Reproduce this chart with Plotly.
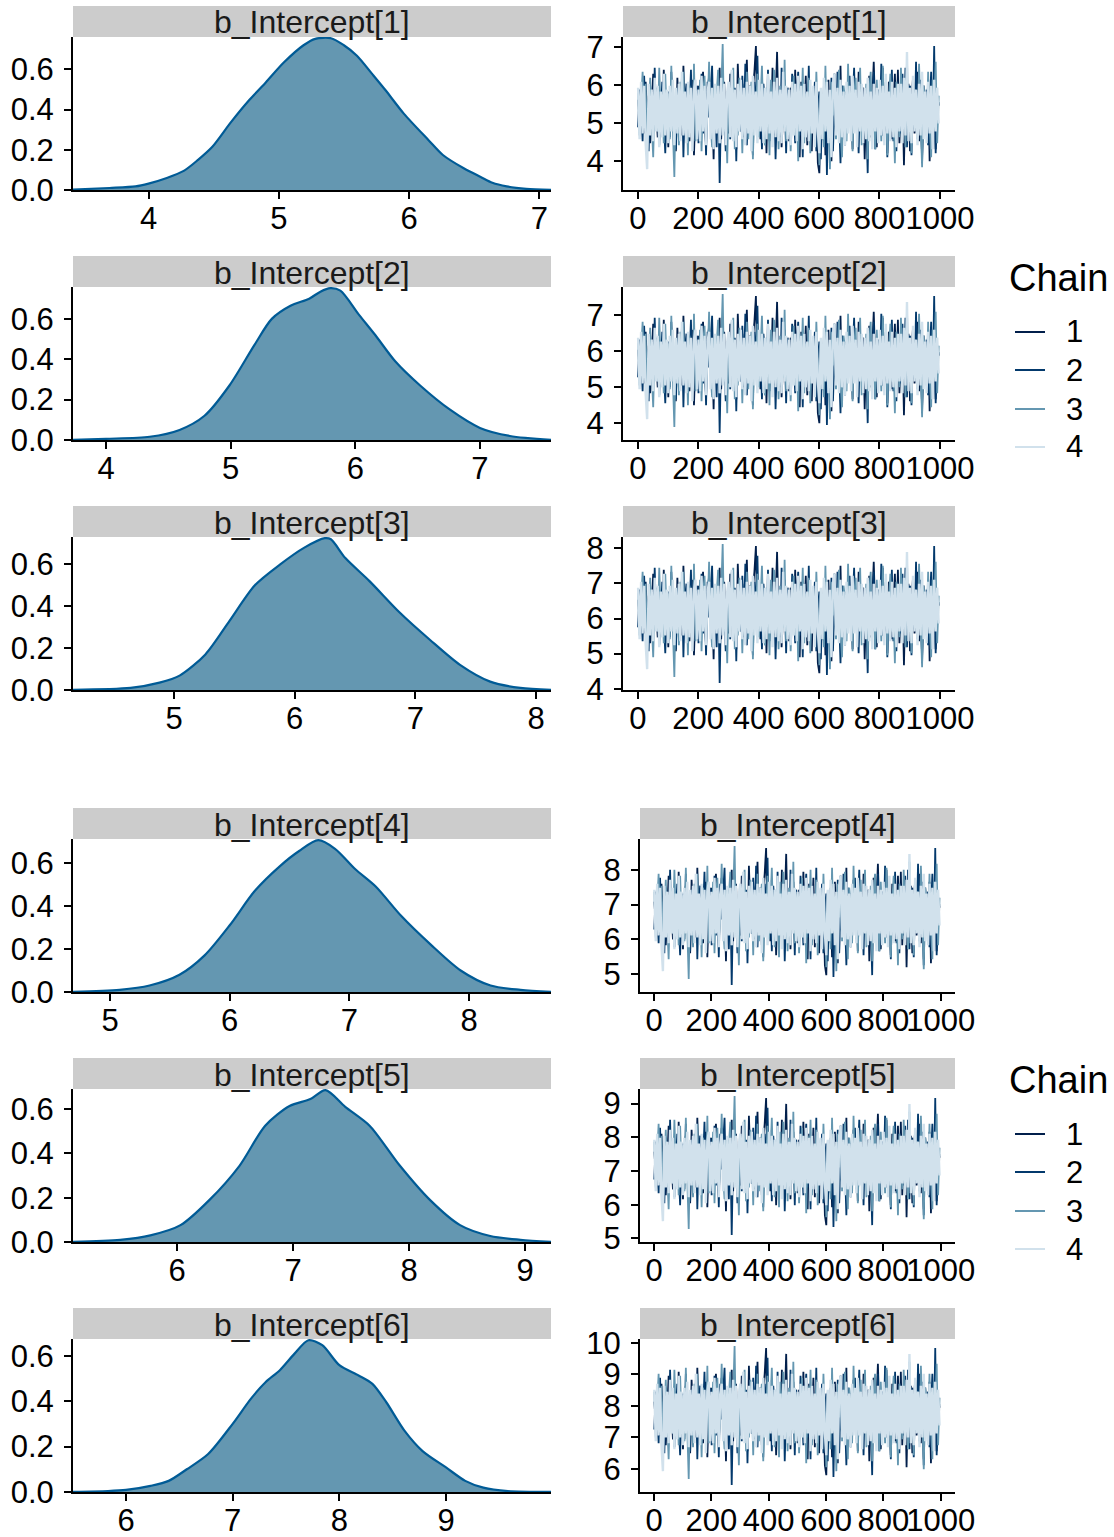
import plotly.graph_objects as go

W, H = 1114, 1537
FONT = "Liberation Sans, Arial, Helvetica, sans-serif"

# ---------------- data ----------------
param_names = ["b_Intercept[1]", "b_Intercept[2]", "b_Intercept[3]",
               "b_Intercept[4]", "b_Intercept[5]", "b_Intercept[6]"]
chain_names = ["1", "2", "3", "4"]
chain_colors = ["#011f4b", "#03396c", "#6497b1", "#d1e1ec"]
chain_widths = [1.8, 1.8, 1.8, 2.4]
dens_fill = "#6497b1"
dens_line = "#005b96"

# posterior density curves
dens1_x = [3.42, 3.70, 3.90, 4.00, 4.14, 4.27, 4.38, 4.49, 4.63, 4.77, 4.90, 5.04, 5.19, 5.28,
           5.40, 5.50, 5.60, 5.72, 5.82, 5.96, 6.15, 6.26, 6.42, 6.55, 6.64, 6.75, 6.90, 7.09]
dens1_y = [0.002, 0.010, 0.018, 0.032, 0.060, 0.095, 0.150, 0.215, 0.335, 0.445, 0.535, 0.635, 0.720, 0.752,
           0.755, 0.720, 0.668, 0.575, 0.496, 0.380, 0.248, 0.174, 0.108, 0.065, 0.036, 0.018, 0.006, 0.001]
dens2_x = [3.735, 4.00, 4.35, 4.59, 4.79, 4.99, 5.19, 5.33, 5.48, 5.63, 5.72, 5.80, 5.88, 6.03,
           6.16, 6.32, 6.52, 6.76, 7.00, 7.24, 7.57]
dens2_y = [0.001, 0.006, 0.016, 0.050, 0.120, 0.270, 0.470, 0.600, 0.665, 0.700, 0.735, 0.752, 0.740, 0.620,
           0.520, 0.390, 0.270, 0.150, 0.060, 0.020, 0.001]
dens3_x = [4.163, 4.64, 4.88, 5.05, 5.26, 5.46, 5.67, 5.88, 6.08, 6.25, 6.30, 6.42, 6.62, 6.87,
           7.12, 7.37, 7.62, 7.87, 8.124]
dens3_y = [0.001, 0.010, 0.035, 0.070, 0.170, 0.330, 0.500, 0.600, 0.680, 0.725, 0.720, 0.630, 0.520, 0.370,
           0.240, 0.120, 0.040, 0.010, 0.001]
dens4_x = [4.69, 5.08, 5.33, 5.58, 5.79, 6.00, 6.21, 6.42, 6.58, 6.74, 6.88, 7.05, 7.22, 7.43,
           7.68, 7.93, 8.18, 8.43, 8.685]
dens4_y = [0.001, 0.010, 0.030, 0.080, 0.170, 0.310, 0.470, 0.585, 0.655, 0.705, 0.665, 0.570, 0.490, 0.355,
           0.220, 0.100, 0.030, 0.010, 0.001]
dens5_x = [5.103, 5.51, 5.77, 6.03, 6.28, 6.54, 6.76, 6.97, 7.15, 7.28, 7.45, 7.66, 7.92, 8.18,
           8.44, 8.70, 8.96, 9.224]
dens5_y = [0.001, 0.010, 0.030, 0.076, 0.190, 0.345, 0.525, 0.614, 0.645, 0.685, 0.610, 0.525, 0.345, 0.190,
           0.076, 0.027, 0.010, 0.001]
dens6_x = [5.503, 5.83, 6.00, 6.23, 6.40, 6.57, 6.77, 7.00, 7.17, 7.31, 7.44, 7.58, 7.71, 7.84,
           8.00, 8.18, 8.31, 8.44, 8.61, 8.78, 9.00, 9.18, 9.35, 9.58, 9.984]
dens6_y = [0.0005, 0.004, 0.009, 0.027, 0.049, 0.100, 0.167, 0.300, 0.410, 0.484, 0.535, 0.609, 0.668, 0.646,
           0.558, 0.513, 0.476, 0.395, 0.270, 0.180, 0.108, 0.049, 0.019, 0.004, 0.0005]

# MCMC traces: standardized draws per chain (thinned, read approximately) and
# per-parameter centre / scale
n_iter = 1000
iterations = list(range(1, 1001, 5))
param_center = [5.307, 5.708, 6.200, 6.745, 7.222, 7.760]
param_scale = [0.524, 0.548, 0.566, 0.571, 0.589, 0.630]

chain1_z = [
    0.6, -0.4, 1.2, 0.3, -1.1, 1.5, -0.2, 0.8, -1.6, 0.4, 1.9, -0.7, 0.1, -1.3, 1.1, 0.5, -0.9, 2.1, -0.3, 0.7,
    -1.8, 0.9, 1.4, -0.6, 0.2, -2.0, 1.7, -0.1, 0.6, -1.2, 2.3, 0.0, -0.8, 1.0, -1.5, 0.4, 1.6, -2.2, 0.3, -0.5,
    1.3, -1.0, 0.7, 2.0, -0.4, -1.7, 0.9, 1.8, -0.2, 0.5, -2.4, 1.2, 0.1, -0.9, 2.2, -1.4, 0.6, 1.5, -0.7, 0.2,
    -1.1, 1.9, 0.4, -0.3, 1.0, -1.9, 2.4, 0.2, -0.6, 1.4, -1.3, 0.8, 2.6, -0.5, 0.3, -1.6, 1.1, 2.0, 3.3, -0.8,
    0.5, -1.4, 1.7, -0.2, 0.9, -2.1, 1.3, 0.0, -0.7, 2.2, -1.2, 0.6, 3.0, -0.4, 1.0, -1.8, 0.3, 1.6, -0.9, 0.1,
    -1.5, 1.2, 0.4, -0.6, 2.1, -1.0, 0.8, -2.3, 1.5, 0.2, -0.3, 1.8, -1.7, 0.5, 0.9, -2.0, 1.1, -0.5, 0.3, -2.6,
    -3.1, 0.7, -1.4, 1.3, -2.2, 0.2, 1.6, -0.8, -2.5, 0.9, 1.9, -1.1, 0.4, -0.2, 2.3, -1.6, 0.6, 1.0, -0.9, 1.7,
    -0.4, 0.8, -1.9, 1.4, 0.1, -1.2, 2.0, -0.7, 0.5, 1.2, -2.4, 0.3, -0.6, 1.8, -1.3, 0.9, 2.5, -0.1, -1.8, 0.6,
    1.1, -0.5, 2.2, -1.0, 0.4, -2.1, 1.5, 0.7, -1.4, 0.2, 1.9, -0.8, 2.1, -1.6, 0.3, 1.0, -2.7, 0.8, -0.3, 1.4,
    -2.0, 0.5, 1.7, -1.1, 0.0, 2.0, -1.5, 0.6, -2.3, 1.3, 0.2, -0.9, 1.6, -2.5, 0.9, -0.4, 1.2, -1.9, 0.7, 0.3,
]
chain2_z = [
    -0.8, 1.1, 0.2, -1.5, 1.8, -0.3, 0.6, -2.0, 1.3, 0.4, -1.0, 2.2, -0.6, 0.9, -1.7, 0.1, 1.5, -0.4, -2.1, 0.7,
    1.0, -1.3, 2.0, -0.2, 0.5, -1.9, 1.2, 0.3, -0.9, 1.7, -2.3, 0.6, 1.4, -0.7, 0.0, 2.1, -1.4, 0.8, -0.5, 1.3,
    -1.6, 0.4, 1.9, -1.1, 0.7, -2.2, 1.5, -0.3, 0.9, 2.3, -1.2, 0.2, -1.8, 1.1, -3.6, 0.5, 1.6, -0.8, -2.0, 1.0,
    0.3, -1.4, 2.0, -0.6, 1.2, -2.5, 0.8, 0.1, -1.0, 1.8, -0.4, 2.4, -1.7, 0.6, 1.3, -0.9, -2.2, 1.5, 0.2, 2.8,
    -1.1, 0.7, -1.9, 1.4, 0.4, -0.7, 2.1, -1.5, 0.9, -0.2, 1.6, -2.4, 0.3, 1.1, -1.3, 2.2, -0.5, 0.8, -2.1, 1.2,
    0.6, -1.0, 1.9, -0.3, -1.6, 0.9, 2.0, -1.2, 0.4, -2.3, 1.4, 0.1, -0.8, 2.3, -1.4, 0.7, -0.4, 1.5, -2.0, 0.2,
    1.0, -2.4, 0.5, -1.5, 1.2, -3.2, 0.8, -0.6, 1.7, -2.0, 0.3, -1.1, 2.0, -0.2, -2.6, 1.3, 0.6, -1.7, 0.9, -0.5,
    1.8, -1.3, 0.4, 2.2, -0.9, 0.1, -2.1, 1.4, 0.7, -1.6, 1.0, -0.3, -3.1, 1.6, 0.2, -1.0, 2.0, -1.9, 0.5, 1.1,
    -0.7, 2.4, -1.2, 0.3, 1.5, -2.3, 0.8, -0.4, 2.1, -1.5, 0.6, -2.0, 1.2, 0.0, -1.1, 1.9, -0.6, 2.2, -1.8, 0.4,
    1.3, -2.2, 0.7, -0.9, 2.5, -1.4, 0.2, 1.6, -2.6, 0.9, -0.3, 1.1, -1.7, 0.5, 2.0, -1.2, 3.3, -2.1, 0.6, 0.4,
]
chain3_z = [
    1.1, -1.2, 0.5, 2.0, -0.7, 1.4, -1.9, 0.3, 1.7, -0.5, -2.3, 0.8, 1.2, -1.0, 2.2, -0.2, 0.6, -1.6, 1.9, -0.4,
    0.9, -1.4, 2.3, -0.8, -3.3, 1.0, 0.2, -1.7, 1.5, -0.1, 2.0, -1.1, 0.7, -2.2, 1.3, 0.4, -0.9, 2.4, -1.5, 0.6,
    -0.3, 1.6, -2.0, 0.9, 1.8, -1.3, 0.1, 2.5, -0.6, -1.8, 1.2, -0.4, 0.8, 2.1, -1.6, 0.5, 3.4, -1.0, 0.2, -2.6,
    1.4, -0.7, 0.6, 2.2, -1.9, 0.3, -1.2, 1.7, 0.9, -2.1, 1.1, -0.5, 2.0, -1.4, 0.4, 1.5, -2.4, 0.7, -0.2, 1.9,
    -1.3, 0.8, 2.3, -0.9, -1.7, 1.2, 0.3, -2.2, 1.6, -0.6, 2.1, -1.1, 0.5, -1.9, 1.3, 0.0, -0.8, 2.6, -1.5, 0.7,
    1.0, -2.0, 0.4, 1.8, -1.2, 0.6, -2.5, 1.4, -0.3, 2.2, -1.6, 0.9, -0.5, 1.7, -2.1, 0.2, 1.2, -1.3, 2.0, -0.7,
    -2.7, 1.1, 0.5, -1.8, 2.3, -0.9, 0.7, -2.9, 1.5, -0.2, 1.9, -1.4, 0.3, 2.1, -1.0, -2.3, 1.3, 0.6, -1.5, 2.4,
    -0.6, 1.0, -2.0, 0.8, 1.7, -1.2, 0.2, 2.2, -1.7, 0.5, -0.8, 1.4, -2.4, 0.9, 2.0, -1.1, 0.4, -1.9, 1.6, -0.3,
    0.7, -1.5, 2.3, -0.4, 1.2, -2.2, 0.6, 1.9, -1.0, 0.1, -2.6, 1.5, 0.8, -1.3, 2.2, -0.5, 1.0, -1.8, 2.6, -0.9,
    0.4, -2.1, 1.7, -0.6, 1.1, -1.4, 2.4, -0.2, -2.8, 1.3, 0.5, -1.2, 2.0, -0.7, -2.3, 1.6, 0.3, 2.5, -1.6, 0.8,
]
chain4_z = [
    1.2, -1.4, 1.5, -1.1, 1.3, -1.6, -2.9, 1.4, -1.2, 1.1, -1.5, 1.7, -1.0, 1.3, -1.8, 1.0, -1.3, 1.9, -1.2, 1.1,
    -1.6, 1.3, -1.0, 1.6, -1.7, 1.2, -1.1, 1.4, -1.5, 2.0, -1.2, 1.0, -1.6, 1.5, -1.3, 1.2, -2.0, 1.1, 1.6, -1.4,
    1.1, -1.5, 1.8, -1.0, 1.3, -1.7, 1.0, 1.5, -1.4, 1.2, -1.9, 1.4, -1.1, 1.3, -1.6, 1.7, -1.2, 1.4, -1.7, 1.0,
    1.5, -1.3, 2.1, -1.5, 1.1, -1.8, 1.4, -1.0, 1.6, -1.4, 1.2, -1.7, 1.5, -1.1, 1.3, -2.0, 1.8, -1.2, 1.0, -1.6,
    1.6, -1.0, 1.4, -1.6, 1.2, -1.4, 1.9, -1.1, 1.0, -1.8, 1.5, -1.3, 1.7, -1.5, 1.1, -1.6, 2.0, -1.0, 1.3, -1.4,
    1.1, -1.7, 1.5, -1.2, 1.4, -1.5, 1.8, -1.0, 1.3, -1.9, 1.4, -1.3, 1.0, -1.5, 1.6, -1.1, 1.3, -1.8, 1.5, -1.0,
    -2.1, 1.2, -1.4, 1.7, -1.0, 1.5, -1.6, 1.1, -2.3, 1.4, 1.9, -1.2, 1.2, -1.6, 1.6, -1.3, 1.0, -1.7, 1.5, -1.1,
    1.3, -1.5, 1.8, -1.1, 1.1, -1.8, 1.5, -1.0, 1.4, -1.6, 1.2, -1.4, 1.7, -1.5, 1.0, -1.9, 1.4, -1.0, 1.2, -1.6,
    1.6, -1.2, 1.3, -1.7, 1.9, -1.1, 1.0, -1.5, 1.5, -1.3, 1.2, -1.8, 1.4, -1.0, 1.4, -1.6, 1.7, -1.2, 3.0, -1.5,
    1.2, -1.6, 1.8, -1.0, 1.1, -1.7, 1.4, -1.2, 2.0, -1.4, 1.0, -1.6, 1.5, -1.1, 1.3, -1.9, 1.6, -1.0, 1.2, -0.6,
]

dens_x = [dens1_x, dens2_x, dens3_x, dens4_x, dens5_x, dens6_x]
dens_y = [dens1_y, dens2_y, dens3_y, dens4_y, dens5_y, dens6_y]
chains_z = [chain1_z, chain2_z, chain3_z, chain4_z]

# ---------------- layout geometry (pixels) ----------------
row_top = [37, 287, 537, 839, 1089, 1339]
row_bot = [190, 440, 690, 992, 1242, 1492]
strip_h = 31
dens_left, dens_right = 73, 551
trace_left = [623, 623, 623, 640, 640, 640]
trace_right = 955
legend_tops = [255, 1057]


def fx(px):
    return px / W


def fy(px):
    return 1 - px / H


fig = go.Figure()
layout = {}
shapes = []
annotations = []

axis_common = dict(
    showline=True, linecolor="black", linewidth=2,
    ticks="outside", ticklen=7, tickwidth=2, tickcolor="black",
    showgrid=False, zeroline=False, automargin=False, tickangle=0,
    tickfont=dict(family=FONT, size=31, color="black"),
)
xaxis_common = dict(axis_common, ticklabelstandoff=-7)
yaxis_common = dict(axis_common, ticklabelstandoff=4)

for i in range(6):
    # ---- density panel ----
    ax = i + 1
    fig.add_trace(go.Scatter(
        x=dens_x[i], y=dens_y[i], mode="lines",
        line=dict(color=dens_line, width=2.2, shape="spline", smoothing=0.8),
        fill="tozeroy", fillcolor=dens_fill, showlegend=False,
        xaxis=f"x{ax}", yaxis=f"y{ax}", hoverinfo="skip",
    ))
    layout[f"xaxis{ax}"] = dict(
        xaxis_common, domain=[fx(dens_left), fx(dens_right)], anchor=f"y{ax}",
        range=[min(dens_x[i]), max(dens_x[i])], dtick=1, tick0=0,
    )
    layout[f"yaxis{ax}"] = dict(
        yaxis_common, domain=[fy(row_bot[i]), fy(row_top[i])], anchor=f"x{ax}",
        range=[0, max(dens_y[i]) * 1.008], tickvals=[0, 0.2, 0.4, 0.6], tickformat=".1f",
    )
    # ---- trace panel ----
    at = i + 7
    lo, hi = None, None
    for c in range(4):
        vals = [param_center[i] + param_scale[i] * z for z in chains_z[c]]
        lo = min(vals) if lo is None else min(lo, min(vals))
        hi = max(vals) if hi is None else max(hi, max(vals))
        fig.add_trace(go.Scatter(
            x=iterations[:len(vals)], y=vals, mode="lines", name=chain_names[c],
            line=dict(color=chain_colors[c], width=chain_widths[c]),
            legendgroup=f"chain{c + 1}", showlegend=False,
            xaxis=f"x{at}", yaxis=f"y{at}", hoverinfo="skip",
        ))
    pad = 0.05 * (hi - lo)
    xpad = 0.05 * (n_iter - 1)
    layout[f"xaxis{at}"] = dict(
        xaxis_common, domain=[fx(trace_left[i]), fx(trace_right)], anchor=f"y{at}",
        range=[1 - xpad, n_iter + xpad], tickvals=[0, 200, 400, 600, 800, 1000],
    )
    layout[f"yaxis{at}"] = dict(
        yaxis_common, domain=[fy(row_bot[i]), fy(row_top[i])], anchor=f"x{at}",
        range=[lo - pad, hi + pad], dtick=1, tick0=0,
    )

    # ---- strips ----
    for (l, r) in [(dens_left, dens_right), (trace_left[i], trace_right)]:
        shapes.append(dict(
            type="rect", xref="paper", yref="paper",
            x0=fx(l), x1=fx(r), y0=fy(row_top[i]), y1=fy(row_top[i] - strip_h),
            fillcolor="#cccccc", line=dict(width=0), layer="below",
        ))
        annotations.append(dict(
            xref="paper", yref="paper", x=fx((l + r) / 2), y=fy(row_top[i] - strip_h / 2 + 1),
            text=param_names[i], showarrow=False, xanchor="center", yanchor="middle",
            font=dict(family=FONT, size=32, color="#1a1a1a"),
        ))

# ---- chain legends (one per page block) ----
legend_title_dy = 23
legend_item_dy = [77, 115, 154, 192]
for top in legend_tops:
    annotations.append(dict(
        xref="paper", yref="paper", x=fx(1007), y=fy(top + legend_title_dy),
        text="Chain", showarrow=False, xanchor="left", yanchor="middle",
        font=dict(family=FONT, size=38, color="black"),
    ))
    for c in range(4):
        yy = top + legend_item_dy[c]
        shapes.append(dict(
            type="line", xref="paper", yref="paper",
            x0=fx(1015), x1=fx(1045), y0=fy(yy), y1=fy(yy),
            line=dict(color=chain_colors[c], width=2),
        ))
        annotations.append(dict(
            xref="paper", yref="paper", x=fx(1064), y=fy(yy),
            text=chain_names[c], showarrow=False, xanchor="left", yanchor="middle",
            font=dict(family=FONT, size=31, color="black"),
        ))

fig.update_layout(
    width=W, height=H, margin=dict(l=0, r=0, t=0, b=0),
    paper_bgcolor="white", plot_bgcolor="white",
    font=dict(family=FONT, color="black"),
    shapes=shapes, annotations=annotations, showlegend=False,
    **layout,
)

fig.write_html("out.html", config={"displayModeBar": False})
